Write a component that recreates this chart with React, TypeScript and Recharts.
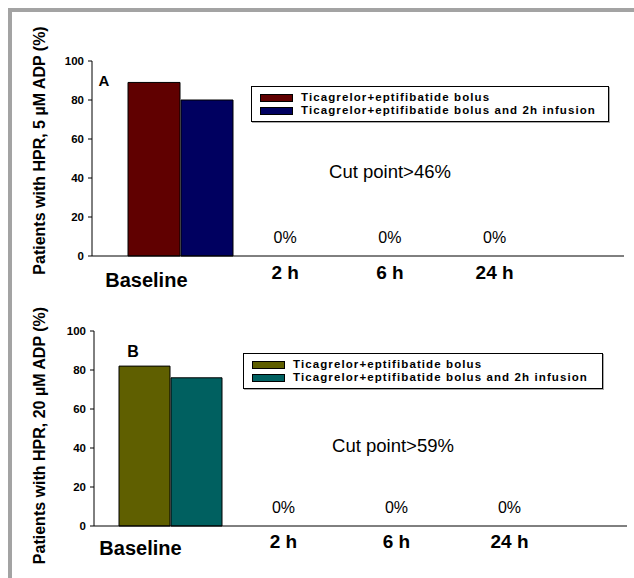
import { BarChart, Bar, XAxis, YAxis, Legend, ReferenceDot } from "recharts";

const categories = ["Baseline", "2 h", "6 h", "24 h"];
const seriesNames = [
  "Ticagrelor+eptifibatide bolus",
  "Ticagrelor+eptifibatide bolus and 2h infusion",
];
// Panel A: 5 µM ADP
const bolusA = [89, 0, 0, 0];
const infusionA = [80, 0, 0, 0];
// Panel B: 20 µM ADP
const bolusB = [82, 0, 0, 0];
const infusionB = [76, 0, 0, 0];
const yTicks = [0, 20, 40, 60, 80, 100];

const FONT = "'Liberation Sans', Arial, sans-serif";

const toRows = (a: number[], b: number[]) =>
  categories.map((name, i) => ({ name, bolus: a[i], infusion: b[i] }));

function LegendBox({ payload }: any) {
  return (
    <div
      style={{
        border: "1px solid #000",
        boxShadow: "1px 1px 0 #aaa",
        background: "#fff",
        padding: "4px 8px 4px 8px",
        fontFamily: FONT,
        fontWeight: "bold",
        fontSize: 11.5,
        letterSpacing: 1.1,
        lineHeight: "13px",
        whiteSpace: "nowrap",
      }}
    >
      {(payload || []).map((p: any) => (
        <div key={p.value} style={{ display: "flex", alignItems: "center", height: 13 }}>
          <span
            style={{
              display: "inline-block",
              width: 31,
              height: 6,
              background: p.color,
              border: "1px solid #000",
              marginRight: 8,
            }}
          />
          <span>{p.value}</span>
        </div>
      ))}
    </div>
  );
}

function makeTick(firstDx: number, firstDy: number, otherDy: number) {
  return (props: any) => {
    const { x, y, payload, index } = props;
    const first = index === 0;
    return (
      <text
        x={first ? x + firstDx : x}
        y={y + (first ? firstDy : otherDy)}
        textAnchor="middle"
        fontFamily={FONT}
        fontWeight="bold"
        fontSize={first ? 20 : 19}
        fill="#000"
      >
        {payload.value}
      </text>
    );
  };
}

function makeYLabel(text: string, lift: number) {
  return (props: any) => {
    const vb = props.viewBox || {};
    const cx = 45;
    const cy = vb.y + vb.height / 2 - lift;
    return (
      <text
        x={cx}
        y={cy}
        transform={`rotate(-90, ${cx}, ${cy})`}
        textAnchor="middle"
        fontFamily={FONT}
        fontWeight="bold"
        fontSize={16}
        fill="#000"
      >
        {text}
      </text>
    );
  };
}

interface PanelProps {
  top: number;
  height: number;
  rows: any[];
  colors: [string, string];
  yLabel: string;
  yLabelLift: number;
  margin: { top: number; right: number; bottom: number; left: number };
  xHeight: number;
  padding: { left: number; right: number };
  categoryGap: number;
  legendPos: { left: number; top: number; width: number };
  letter: { text: string; x: number; y: number; size: number };
  cut: { text: string; x: number; y: number };
  tick: { firstDx: number; firstDy: number; otherDy: number };
}

function Panel(p: PanelProps) {
  const zeroRows = p.rows.filter((r) => r.bolus === 0 && r.infusion === 0);
  return (
    <div style={{ position: "absolute", left: 0, top: p.top, width: 634, height: p.height }}>
      <BarChart
        width={634}
        height={p.height}
        data={p.rows}
        margin={p.margin}
        barCategoryGap={p.categoryGap}
        barGap={1}
      >
        <XAxis
          dataKey="name"
          height={p.xHeight}
          padding={p.padding}
          axisLine={{ stroke: "#000" }}
          tickLine={false}
          tickSize={0}
          tickMargin={0}
          interval={0}
          tick={makeTick(p.tick.firstDx, p.tick.firstDy, p.tick.otherDy)}
        />
        <XAxis
          xAxisId="top"
          orientation="top"
          dataKey="name"
          height={0}
          padding={p.padding}
          tick={false}
          tickLine={false}
          axisLine={{ stroke: "#000" }}
        />
        <YAxis
          width={92}
          domain={[0, 100]}
          ticks={yTicks}
          interval={0}
          axisLine={{ stroke: "#000" }}
          tickLine={{ stroke: "#000" }}
          tickSize={4}
          tickMargin={4}
          tick={{ fill: "#000", fontFamily: FONT, fontWeight: "bold", fontSize: 11.5 }}
          label={{ content: makeYLabel(p.yLabel, p.yLabelLift) }}
        />
        <YAxis
          yAxisId="right"
          orientation="right"
          width={0}
          domain={[0, 100]}
          tick={false}
          tickLine={false}
          axisLine={{ stroke: "#000" }}
        />
        <Legend
          layout="vertical"
          align="center"
          verticalAlign="middle"
          content={<LegendBox />}
          wrapperStyle={{ ...p.legendPos, position: "absolute" }}
        />
        <Bar
          dataKey="bolus"
          name={seriesNames[0]}
          fill={p.colors[0]}
          stroke="#000"
          strokeWidth={1}
          isAnimationActive={false}
        />
        <Bar
          dataKey="infusion"
          name={seriesNames[1]}
          fill={p.colors[1]}
          stroke="#000"
          strokeWidth={1}
          isAnimationActive={false}
        />
        {zeroRows.map((r) => (
          <ReferenceDot
            key={r.name}
            x={r.name}
            y={0}
            r={1}
            fill="none"
            stroke="none"
            ifOverflow="visible"
            label={{
              value: "0%",
              position: "top",
              offset: 12,
              fill: "#000",
              fontFamily: FONT,
              fontSize: 16,
            }}
          />
        ))}
      </BarChart>
      <div
        style={{
          position: "absolute",
          left: p.letter.x,
          top: p.letter.y,
          transform: "translate(-50%, -50%)",
          fontFamily: FONT,
          fontWeight: "bold",
          fontSize: p.letter.size,
          lineHeight: 1,
        }}
      >
        {p.letter.text}
      </div>
      <div
        style={{
          position: "absolute",
          left: p.cut.x,
          top: p.cut.y,
          transform: "translate(-50%, -50%)",
          fontFamily: FONT,
          fontSize: 18.5,
          lineHeight: 1,
          whiteSpace: "nowrap",
        }}
      >
        {p.cut.text}
      </div>
    </div>
  );
}

export default function App() {
  return (
    <div
      style={{
        position: "absolute",
        left: 0,
        top: 0,
        width: 634,
        height: 578,
        background: "#fff",
        overflow: "hidden",
      }}
    >
      <div
        style={{
          position: "absolute",
          left: 8,
          top: 8,
          width: 640,
          height: 580,
          borderTop: "4px solid #a3a3a3",
          borderLeft: "4px solid #a3a3a3",
        }}
      />
      <Panel
        top={0}
        height={290}
        rows={toRows(bolusA, infusionA)}
        colors={["#600000", "#000060"]}
        yLabel="Patients with HPR, 5 µM ADP (%)"
        yLabelLift={8}
        margin={{ top: 61, right: 10, bottom: 0, left: 0 }}
        xHeight={34}
        padding={{ left: 36, right: 77 }}
        categoryGap={0}
        legendPos={{ left: 251, top: 86, width: 358 }}
        letter={{ text: "A", x: 104, y: 80, size: 15 }}
        cut={{ text: "Cut point>46%", x: 390, y: 172 }}
        tick={{ firstDx: -34, firstDy: 31, otherDy: 23 }}
      />
      <Panel
        top={290}
        height={288}
        rows={toRows(bolusB, infusionB)}
        colors={["#5f5f00", "#006060"]}
        yLabel="Patients with HPR, 20 µM ADP (%)"
        yLabelLift={-7}
        margin={{ top: 41, right: 7, bottom: 0, left: 2 }}
        xHeight={52}
        padding={{ left: 20, right: 61 }}
        categoryGap={5}
        legendPos={{ left: 243, top: 63, width: 360 }}
        letter={{ text: "B", x: 133, y: 62, size: 16 }}
        cut={{ text: "Cut point>59%", x: 393, y: 156 }}
        tick={{ firstDx: -30, firstDy: 29, otherDy: 22 }}
      />
    </div>
  );
}
